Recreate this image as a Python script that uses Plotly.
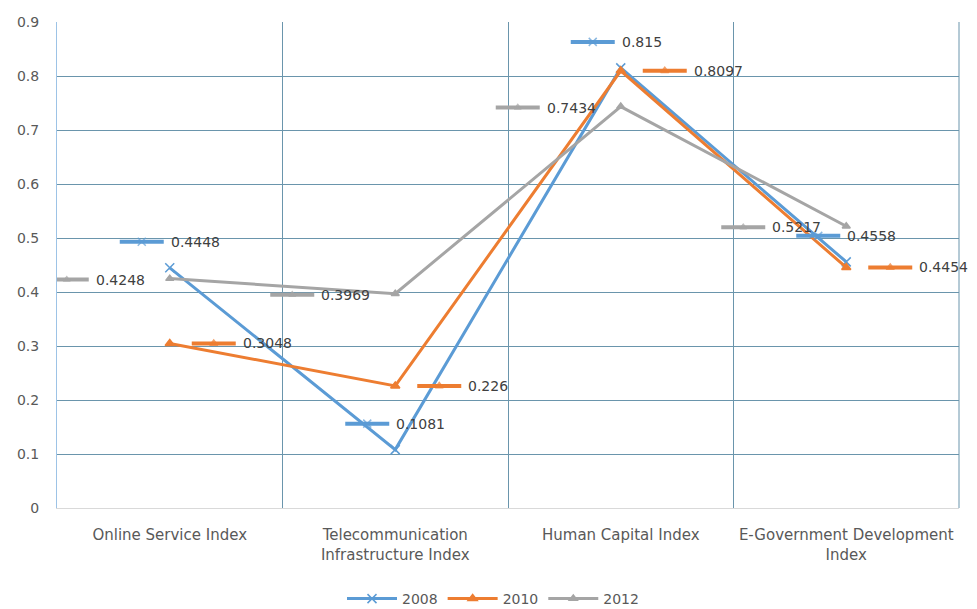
import plotly.graph_objects as go

categories = ["Online Service Index", "Telecommunication<br>Infrastructure Index",
              "Human Capital Index", "E-Government Development<br>Index"]
series_names = ["2008", "2010", "2012"]
values_2008 = [0.4448, 0.1081, 0.815, 0.4558]
values_2010 = [0.3048, 0.226, 0.8097, 0.4454]
values_2012 = [0.4248, 0.3969, 0.7434, 0.5217]
label_text_2008 = ["0.4448", "0.1081", "0.815", "0.4558"]
label_text_2010 = ["0.3048", "0.226", "0.8097", "0.4454"]
label_text_2012 = ["0.4248", "0.3969", "0.7434", "0.5217"]
y_ticks = [0, 0.1, 0.2, 0.3, 0.4, 0.5, 0.6, 0.7, 0.8, 0.9]
y_tick_text = ["0", "0.1", "0.2", "0.3", "0.4", "0.5", "0.6", "0.7", "0.8", "0.9"]

# styling
colors = ["#5B9BD5", "#ED7D31", "#A5A5A5"]
symbols = ["x-thin", "triangle-up", "triangle-up"]
msizes = [9, 8, 7]
# label placement (pixels): key start x offset, key length, vertical offset
key_dx = [-50, 22, -125]
key_dy = [26, 0, -1]
key_len = 44

W, H = 977, 609
ML, MR, MT, MB = 57, 18, 22, 101
pw, ph = W - ML - MR, H - MT - MB
xr = (-0.5, 3.5)
yr = (0, 0.9)
px_x = pw / (xr[1] - xr[0])
px_y = ph / (yr[1] - yr[0])

fig = go.Figure()
all_vals = [values_2008, values_2010, values_2012]
all_text = [label_text_2008, label_text_2010, label_text_2012]
xs = list(range(len(categories)))

for s, (name, vals) in enumerate(zip(series_names, all_vals)):
    fig.add_trace(go.Scatter(
        x=xs, y=vals, name=name, mode="lines+markers",
        line=dict(color=colors[s], width=3),
        marker=dict(symbol=symbols[s], size=msizes[s], color=colors[s],
                    line=dict(color=colors[s], width=1.5)),
        showlegend=True))

annotations = []
for s, vals in enumerate(all_vals):
    for i, v in enumerate(vals):
        x0 = i + key_dx[s] / px_x
        x1 = i + (key_dx[s] + key_len) / px_x
        yk = v + key_dy[s] / px_y
        fig.add_trace(go.Scatter(
            x=[x0, (x0 + x1) / 2, x1], y=[yk, yk, yk], mode="lines+markers",
            line=dict(color=colors[s], width=4),
            marker=dict(symbol=symbols[s], size=[0, msizes[s] - 1, 0], color=colors[s],
                        line=dict(color=colors[s], width=1.5)),
            showlegend=False, hoverinfo="skip"))
        annotations.append(dict(
            x=x1, y=yk, xref="x", yref="y", text=all_text[s][i], showarrow=False,
            xanchor="left", yanchor="middle", xshift=5,
            font=dict(family="DejaVu Sans", size=14, color="#404040")))

grid_col = "#6A95AC"
fig.update_layout(
    width=W, height=H,
    margin=dict(l=ML, r=MR, t=MT, b=MB, autoexpand=False),
    plot_bgcolor="white", paper_bgcolor="white",
    font=dict(family="DejaVu Sans", size=14, color="#595959"),
    annotations=annotations,
    shapes=[dict(type="line", xref="paper", yref="paper", x0=1, x1=1, y0=0, y1=1,
                 line=dict(color=grid_col, width=1), layer="below")],
    legend=dict(orientation="h", x=(493 - ML) / pw, xanchor="center",
                y=-(599 - (H - MB)) / ph, yanchor="middle",
                font=dict(size=14, color="#595959"), itemwidth=50, tracegroupgap=0),
    xaxis=dict(range=list(xr), tickmode="array", tickvals=xs, ticktext=categories,
               showgrid=False, zeroline=False, showline=True, linecolor="#D9D9D9",
               linewidth=1, ticks="",
               automargin=False, ticklabelstandoff=13,
               tickfont=dict(size=15, color="#595959"),
               minor=dict(tickmode="linear", tick0=-0.5, dtick=1, showgrid=True,
                          gridcolor=grid_col, gridwidth=1, ticks="")),
    yaxis=dict(range=list(yr), tickmode="array", tickvals=y_ticks, ticktext=y_tick_text,
               showgrid=True, gridcolor=grid_col, gridwidth=1, zeroline=False,
               showline=True, linecolor="#9DC3E6", linewidth=1, ticks="",
               automargin=False,
               ticklabelstandoff=14, tickfont=dict(size=14, color="#595959")),
)

fig.write_html("out.html")
